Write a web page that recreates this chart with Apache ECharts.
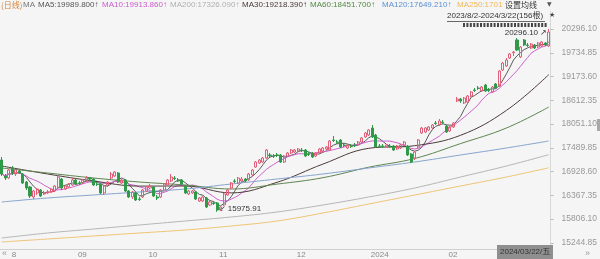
<!DOCTYPE html>
<html><head><meta charset="utf-8">
<script src="https://cdn.jsdelivr.net/npm/echarts@6/dist/echarts.min.js"></script>
<style>html,body{margin:0;padding:0;background:#f5f5f5;}#c{width:600px;height:259px;}</style>
</head><body><div id="c"></div>
<script>
// ---------- data ----------
const monthLabels = ['8','09','10','11','12','2024','02','03'];
const monthBarCounts = [21,20,20,22,21,22,14,16];

const opens = [17200.6,16822.5,16775.3,17011.6,16869.8,16940.7,16869.8,16680.7,16562.6,16326.3,
16420.8,16491.7,16397.2,16420.8,16444.4,16468.1,16539.0,16751.6,16515.3,16562.6,
16609.9,16728.0,16657.1,16657.1,16704.4,16775.3,16751.6,16633.5,16633.5,16420.8,
16609.9,16775.3,16822.5,16893.4,16657.1,16728.0,16468.1,16326.3,16420.8,16279.0,
16326.3,16468.1,16539.0,16562.6,16326.3,16326.3,16491.7,16609.9,16704.4,16775.3,
16728.0,16728.0,16586.2,16397.2,16420.8,16444.4,16231.8,16231.8,16302.7,16137.3,
16184.5,16184.5,16019.1,16137.3,16373.6,16539.0,16704.4,16657.1,16704.4,16751.6,
16728.0,16846.2,17035.2,17129.7,17153.3,17247.9,17318.8,17295.1,17318.8,17318.8,
17153.3,17295.1,17366.0,17389.6,17413.3,17436.9,17436.9,17342.4,17366.0,17295.1,
17366.0,17413.3,17460.5,17436.9,17673.2,17625.9,17673.2,17555.1,17484.2,17531.4,
17555.1,17555.1,17625.9,17744.1,17791.4,17956.8,17791.4,17531.4,17531.4,17507.8,
17531.4,17531.4,17460.5,17484.2,17555.1,17531.4,17342.4,17247.9,17507.8,17838.6,
17862.2,17909.5,17956.8,18074.9,18027.7,18098.5,18004.0,17885.9,17980.4,18594.8,
18642.0,18547.5,18571.1,18712.9,18854.7,18902.0,18831.1,18972.8,18854.7,18807.4,
18996.5,18949.2,19327.3,19421.8,19610.9,19735.0,20036.2,19634.5,20036.2,19918.1,
19847.2,19918.1,19870.8,19894.4,19965.3,19894.4];

const closes = [16869.8,16775.3,16964.3,16893.4,16964.3,16893.4,16657.1,16539.0,16349.9,16468.1,
16515.3,16349.9,16420.8,16444.4,16515.3,16586.2,16798.9,16539.0,16586.2,16633.5,
16728.0,16633.5,16645.3,16728.0,16775.3,16751.6,16609.9,16621.7,16420.8,16586.2,
16680.7,16869.8,16917.0,16680.7,16728.0,16468.1,16326.3,16444.4,16255.4,16267.2,
16491.7,16562.6,16586.2,16349.9,16302.7,16491.7,16633.5,16728.0,16798.9,16763.4,
16704.4,16633.5,16420.8,16468.1,16468.1,16279.0,16302.7,16326.3,16090.0,16208.1,
16172.7,16019.1,16090.0,16397.2,16491.7,16657.1,16692.5,16775.3,16751.6,16704.4,
16869.8,16964.3,17153.3,17200.6,17247.9,17436.9,17306.9,17290.0,17306.9,17153.3,
17295.1,17366.0,17436.9,17436.9,17460.5,17425.1,17295.1,17330.6,17271.5,17366.0,
17460.5,17484.2,17507.8,17649.6,17661.4,17620.0,17507.8,17543.2,17555.1,17519.6,
17543.2,17625.9,17720.5,17838.6,17909.5,17744.1,17507.8,17519.6,17525.0,17555.1,
17519.6,17436.9,17531.4,17555.1,17625.9,17318.8,17153.3,17389.6,17673.2,17956.8,
17956.8,17980.4,18027.7,18063.1,18122.2,18086.7,17862.2,17980.4,18074.9,18642.0,
18594.8,18665.7,18712.9,18807.4,18842.9,18890.2,18925.6,18831.1,18842.9,18925.6,
18902.0,19303.7,19492.7,19563.6,19705.4,19752.6,19799.9,19870.8,19918.1,19906.2,
19941.7,19847.2,19965.3,19988.9,19918.1,20225.2];

const lows = [16822.5,16728.0,16751.6,16846.2,16822.5,16869.8,16633.5,16491.7,16302.7,16279.0,
16373.6,16326.3,16373.6,16397.2,16420.8,16444.4,16515.3,16491.7,16491.7,16539.0,
16586.2,16609.9,16609.9,16633.5,16680.7,16704.4,16586.2,16586.2,16397.2,16373.6,
16562.6,16751.6,16798.9,16657.1,16633.5,16444.4,16302.7,16279.0,16231.8,16231.8,
16302.7,16444.4,16515.3,16326.3,16255.4,16302.7,16468.1,16586.2,16680.7,16728.0,
16680.7,16609.9,16397.2,16373.6,16397.2,16255.4,16208.1,16208.1,16066.4,16113.6,
16137.3,15975.91,15995.5,16113.6,16349.9,16515.3,16657.1,16633.5,16680.7,16680.7,
16704.4,16822.5,17011.6,17106.1,17129.7,17224.2,17271.5,17247.9,17271.5,17129.7,
17129.7,17271.5,17342.4,17366.0,17389.6,17389.6,17271.5,17295.1,17247.9,17271.5,
17342.4,17389.6,17436.9,17413.3,17625.9,17578.7,17484.2,17507.8,17460.5,17484.2,
17507.8,17531.4,17602.3,17720.5,17767.7,17720.5,17484.2,17484.2,17484.2,17484.2,
17484.2,17413.3,17436.9,17460.5,17531.4,17295.1,17129.7,17200.6,17484.2,17815.0,
17838.6,17885.9,17933.1,18027.7,18004.0,18051.3,17838.6,17862.2,17956.8,18571.1,
18547.5,18523.9,18547.5,18689.3,18807.4,18854.7,18807.4,18807.4,18807.4,18783.8,
18878.3,18925.6,19303.7,19398.2,19587.2,19658.1,19776.3,19610.9,19894.4,19870.8,
19823.5,19823.5,19847.2,19870.8,19894.4,19870.8];

const highs = [17271.5,16869.8,16987.9,17058.8,16987.9,16964.3,16893.4,16704.4,16586.2,16491.7,
16539.0,16515.3,16468.1,16491.7,16539.0,16609.9,16846.2,16775.3,16609.9,16657.1,
16775.3,16751.6,16704.4,16751.6,16822.5,16798.9,16775.3,16680.7,16657.1,16609.9,
16704.4,16917.0,16940.7,16917.0,16751.6,16751.6,16491.7,16468.1,16444.4,16326.3,
16515.3,16586.2,16633.5,16586.2,16373.6,16515.3,16657.1,16751.6,16869.8,16822.5,
16775.3,16751.6,16609.9,16491.7,16491.7,16468.1,16326.3,16349.9,16326.3,16231.8,
16231.8,16208.1,16113.6,16420.8,16515.3,16680.7,16751.6,16798.9,16798.9,16775.3,
16893.4,16987.9,17177.0,17224.2,17271.5,17460.5,17366.0,17342.4,17366.0,17342.4,
17318.8,17389.6,17460.5,17460.5,17484.2,17484.2,17460.5,17389.6,17389.6,17389.6,
17484.2,17507.8,17531.4,17673.2,17767.7,17673.2,17696.8,17602.3,17578.7,17578.7,
17602.3,17649.6,17744.1,17862.2,17933.1,18027.7,17815.0,17578.7,17578.7,17578.7,
17578.7,17555.1,17555.1,17578.7,17649.6,17555.1,17366.0,17413.3,17696.8,17980.4,
17980.4,18004.0,18051.3,18122.2,18169.4,18145.8,18027.7,18004.0,18098.5,18689.3,
18665.7,18689.3,18736.6,18831.1,18902.0,18949.2,18949.2,18996.5,18902.0,18949.2,
19020.1,19327.3,19516.3,19610.9,19729.0,19776.3,20083.5,19894.4,20059.8,19965.3,
19965.3,19941.7,19988.9,20012.6,19988.9,20296.10];

// long moving averages at these bars
const maSampleBars = [0,13,26,39,52,65,78,91,104,117,130,143,155];
const ma30Samples  = [17058.8,16869.8,16704.4,16583.9,16586.2,16423.2,16673.7,17103.7,17477.1,17538.5,17784.3,18372.6,19218.39];
const ma60Samples  = [17011.6,16893.4,16775.3,16680.7,16609.9,16515.3,16631.1,16782.3,17030.5,17236.0,17588.1,17956.8,18451.70];
const ma120Samples = [16208.1,16302.7,16373.6,16444.4,16515.3,16633.5,16751.6,16869.8,17011.6,17153.3,17318.8,17484.2,17649.21];
const ma200Samples = [15357.5,15475.6,15570.1,15664.7,15759.2,15853.7,15972.0,16137.3,16326.3,16539.0,16798.9,17058.8,17326.09];
const ma250Samples = [15262.9,15333.8,15404.7,15475.6,15546.5,15641.0,15759.2,15948.2,16160.9,16373.6,16586.2,16798.9,17015.90];

const yTickValues = [15244.85,15806.10,16367.35,16928.60,17489.85,18051.10,18612.35,19173.60,19734.85,20296.10];
const legendNames  = ['MA5','MA10','MA200','MA30','MA60','MA120','MA250'];
const legendValues = ['19989.800','19913.860','17326.090','19218.390','18451.700','17649.210','17015.900'];
const rangeText = '2023/8/2-2024/3/22(156根)';
const lastDateText = '2024/03/22/五';

// ---------- build ----------
const categories = [];
const monthStart = new Set();
monthBarCounts.forEach((n, m) => {
  monthStart.add(categories.length);
  for (let k = 0; k < n; k++) categories.push(monthLabels[m] + '|' + k);
});
const candle = opens.map((o, i) => [o, closes[i], lows[i], highs[i]]);
function movAvg(n) {
  return closes.map((c, i) => {
    const s = Math.max(0, i - n + 1); let sum = 0;
    for (let k = s; k <= i; k++) sum += closes[k];
    return +(sum / (i - s + 1)).toFixed(2);
  });
}
function sparse(samples) {
  const arr = new Array(closes.length).fill(null);
  maSampleBars.forEach((b, j) => { arr[b] = samples[j]; });
  return arr;
}
const colors = {MA5:'#5a5a5a', MA10:'#cf5fcf', MA30:'#4e3c3c', MA60:'#5f8450', MA120:'#86a5cf', MA200:'#b6b6b6', MA250:'#efc575'};
const legendColors = {MA5:'#555', MA10:'#cc5acc', MA200:'#b0b0b0', MA30:'#4a3a3a', MA60:'#4f8a3f', MA120:'#5a8fcf', MA250:'#efb85a'};
function lineSeries(name, data, smooth) {
  return {type:'line', name, data, symbol:'none', smooth: smooth, connectNulls:true,
    lineStyle:{width:1, color:colors[name]}, silent:true, z:3};
}

const legendX = [38,102,170,242,310,382,457];
const graphics = [
  {type:'text', x:1, y:1, style:{text:'(日线)', fill:'#d2843c', font:'8px "Noto Sans CJK SC"'}},
  {type:'text', x:23, y:1, style:{text:'MA', fill:'#777', font:'8px "Liberation Sans"'}},
];
legendNames.forEach((n, i) => {
  graphics.push({type:'text', x:legendX[i], y:1, style:{text:n + ':' + legendValues[i] + '↑', fill:legendColors[n], font:'8px "Liberation Sans"'}});
});
graphics.push(
  {type:'rect', shape:{x:503, y:0, width:97, height:11}, style:{fill:'#f5f5f5'}, z:50},
  {type:'text', x:505, y:1, style:{text:'设置均线', fill:'#333', font:'8px "Noto Sans CJK SC"'}, z:51},
  {type:'text', x:547, y:1, style:{text:'▼', fill:'#555', font:'6px "DejaVu Sans"'}, z:51},
  {type:'text', x:447, y:12, style:{text:rangeText, fill:'#333', font:'8px "Liberation Sans", "Noto Sans CJK SC"'}, z:51},
  {type:'line', shape:{x1:447, y1:21.5, x2:545, y2:21.5}, style:{stroke:'#444', lineWidth:0.8}, z:51},
  {type:'text', x:549, y:12, style:{text:'★', fill:'#444', font:'7px "DejaVu Sans"'}, z:51},
  {type:'line', shape:{x1:463, y1:25, x2:548, y2:25}, style:{stroke:'#444', lineWidth:4, lineDash:[2,1.4]}, z:51},
  {type:'text', x:2, y:249, style:{text:'«', fill:'#999', font:'9px "Liberation Sans"'}, z:51},
  {type:'text', x:585, y:249, style:{text:'»', fill:'#999', font:'9px "Liberation Sans"'}, z:51},
  {type:'rect', shape:{x:497, y:245, width:56, height:14}, style:{fill:'#8f8f8f'}, z:50},
  {type:'text', x:500, y:248, style:{text:lastDateText, fill:'#333', font:'8px "Liberation Sans", "Noto Sans CJK SC"'}, z:51},
  {type:'rect', shape:{x:597, y:119, width:3, height:12}, style:{fill:'#a8a8a8'}, z:51}
);

const chart = echarts.init(document.getElementById('c'), null, {renderer:'canvas'});
chart.setOption({
  animation:false,
  backgroundColor:'#f5f5f5',
  grid:{left:0, right:47, top:0, bottom:10, containLabel:false},
  xAxis:{type:'category', data:categories, boundaryGap:true,
    axisLine:{show:true, lineStyle:{color:'#d0d0d0'}},
    axisTick:{show:false}, splitLine:{show:false},
    axisLabel:{interval:(idx) => monthStart.has(idx),
      formatter:(v, idx) => idx === 0 ? '{f|' + v.split('|')[0] + '}' : v.split('|')[0],
      rich:{f:{padding:[0,0,0,8], fontSize:8, color:'#888', fontFamily:'Liberation Sans'}},
      align:'left', padding:[0,0,0,2], margin:2, fontSize:8, color:'#888', fontFamily:'Liberation Sans'}},
  yAxis:{type:'value', position:'right', min:15097.5, max:20981.4, scale:true,
    axisLine:{show:true, lineStyle:{color:'#d8d8d8'}},
    splitLine:{show:false},
    axisTick:{show:true, customValues:yTickValues, length:3, lineStyle:{color:'#bbb'}},
    axisLabel:{customValues:yTickValues, formatter:(v) => v.toFixed(2), margin:11,
      fontSize:8.5, color:'#999', fontFamily:'Liberation Sans Narrow, Liberation Sans'}},
  series:[
    {type:'candlestick', data:candle, barWidth:'72%', z:5,
      itemStyle:{color:'rgba(0,0,0,0)', color0:'#2f9a48', borderColor:'#e0607a', borderColor0:'#2f9a48', borderColorDoji:'#d9607a', borderWidth:1},
      markPoint:{symbol:'circle', symbolSize:1, itemStyle:{color:'rgba(0,0,0,0)'},
        data:[
          {type:'max', valueDim:'highest', label:{show:true, position:'left', distance:1, offset:[0,4], fontSize:8, color:'#333', fontFamily:'Liberation Sans', formatter:(p) => p.value.toFixed(2) + ' ↗'}},
          {type:'min', valueDim:'lowest', label:{show:true, position:'right', distance:1, offset:[0,-3], fontSize:8, color:'#333', fontFamily:'Liberation Sans', formatter:(p) => '↙ ' + p.value.toFixed(2)}}
        ]}},
    lineSeries('MA5', movAvg(5), false),
    lineSeries('MA10', movAvg(10), false),
    lineSeries('MA30', sparse(ma30Samples), 0.4),
    lineSeries('MA60', sparse(ma60Samples), 0.4),
    lineSeries('MA120', sparse(ma120Samples), 0.4),
    lineSeries('MA200', sparse(ma200Samples), 0.4),
    lineSeries('MA250', sparse(ma250Samples), 0.4)
  ],
  graphic:graphics
});
</script></body></html>
